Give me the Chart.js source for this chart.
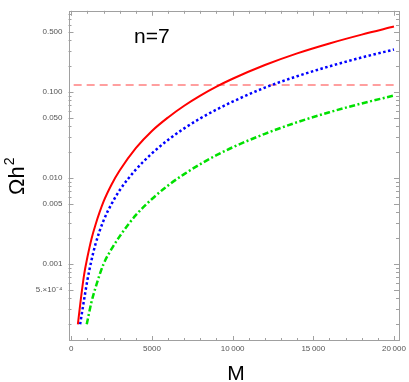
<!DOCTYPE html>
<html>
<head>
<meta charset="utf-8">
<script src="https://cdn.jsdelivr.net/npm/chart.js@4.4.1/dist/chart.umd.min.js"></script>
<style>
  html, body { margin: 0; padding: 0; background: #fff; }
  canvas { display: block; }
</style>
</head>
<body>
<canvas id="relicChart" width="409" height="382"></canvas>
<script>
// values (M, Omega h^2)
const massRed   = [410, 600, 800, 1000, 1250, 1500, 2000, 2500, 3000, 4000, 5000, 6000, 7000, 8000, 9000, 10000, 12000, 14000, 16000, 18000, 20000];
const omegaRed  = [2.0e-4, 4.0e-4, 7.6e-4, 1.2e-3, 1.95e-3, 2.85e-3, 5.3e-3, 8.4e-3, 0.0122, 0.0222, 0.0352, 0.0505, 0.0690, 0.0905, 0.115, 0.142, 0.205, 0.280, 0.365, 0.462, 0.573];

const massBlue  = [550, 800, 1000, 1250, 1500, 2000, 2500, 3000, 4000, 5000, 6000, 7000, 8000, 9000, 10000, 12000, 14000, 16000, 18000, 20000];
const omegaBlue = [2.0e-4, 3.9e-4, 6.5e-4, 1.1e-3, 1.7e-3, 3.2e-3, 5.0e-3, 7.2e-3, 0.0125, 0.0193, 0.0277, 0.0377, 0.0493, 0.0623, 0.0770, 0.112, 0.152, 0.198, 0.251, 0.310];

const massGreen  = [960, 1250, 1500, 2000, 2500, 3000, 4000, 5000, 6000, 7000, 8000, 9000, 10000, 12000, 14000, 16000, 18000, 20000];
const omegaGreen = [2.0e-4, 3.6e-4, 5.3e-4, 1.0e-3, 1.5e-3, 2.1e-3, 3.7e-3, 5.7e-3, 8.2e-3, 0.0111, 0.0145, 0.0184, 0.0227, 0.0326, 0.0444, 0.0580, 0.0734, 0.0906];

const relicMass  = [150, 20000];
const relicOmega = [0.12, 0.12];

const xTickValues = [0, 5000, 10000, 15000, 20000];
const xTickLabels = ['0', '5000', '10\u2009000', '15\u2009000', '20\u2009000'];
const yTickValues = [5e-4, 0.001, 0.005, 0.01, 0.05, 0.1, 0.5];
const yTickLabels = ['5.\u00d710\u207b\u2074', '0.001', '0.005', '0.010', '0.050', '0.100', '0.500'];

const xRange = [-170, 20310];
const yRange = [1.28e-4, 0.874];

const FONT = "'Liberation Sans', Arial, sans-serif";

function toPoints(xs, ys) {
    return xs.map((x, i) => ({ x, y: ys[i] }));
}

// minor tick positions (every 1000 on x, 1..9 per decade on y)
const xMinor = [];
for (let v = 0; v <= 20000; v += 1000) xMinor.push(v);
const yMinor = [];
[1e-4, 1e-3, 1e-2, 1e-1].forEach(d => {
    for (let k = 1; k <= 9; k++) {
        const v = k * d;
        if (v >= yRange[0] && v <= yRange[1]) yMinor.push(v);
    }
});

// Mathematica style frame with inward ticks, plus the text labels
const frameTicks = {
    id: 'frameTicks',
    beforeDatasetsDraw(chart) {
        const { ctx, chartArea: a, scales: { x, y } } = chart;
        ctx.save();
        ctx.strokeStyle = '#a0a0a0';
        ctx.lineWidth = 1;
        ctx.strokeRect(Math.round(a.left) + 0.5, Math.round(a.top) + 0.5,
                       Math.round(a.right - a.left), Math.round(a.bottom - a.top) - 1);

        const seg = (x1, y1, x2, y2) => {
            ctx.beginPath(); ctx.moveTo(x1, y1); ctx.lineTo(x2, y2); ctx.stroke();
        };
        xMinor.forEach(v => {
            const px = Math.round(x.getPixelForValue(v)) + 0.5;
            const len = xTickValues.includes(v) ? 5 : 3;
            seg(px, a.bottom, px, a.bottom - len);
            seg(px, a.top, px, a.top + len);
        });
        yMinor.forEach(v => {
            const py = Math.round(y.getPixelForValue(v)) + 0.5;
            const len = yTickValues.some(t => Math.abs(t - v) < v * 1e-6) ? 5 : 3;
            seg(a.left, py, a.left + len, py);
            seg(a.right, py, a.right - len, py);
        });
        ctx.restore();
    },
    afterDraw(chart) {
        const { ctx } = chart;
        ctx.save();
        ctx.fillStyle = '#000';
        ctx.textBaseline = 'alphabetic';

        ctx.font = '21px ' + FONT;
        ctx.fillText('n=7', 134, 43);

        ctx.textAlign = 'center';
        ctx.fillText('M', 236, 380);

        // rotated y title: Omega h^2
        ctx.translate(24, 195);
        ctx.rotate(-Math.PI / 2);
        ctx.textAlign = 'left';
        ctx.font = '22px ' + FONT;
        ctx.fillText('\u03a9h', 0, 0);
        const w = ctx.measureText('\u03a9h').width;
        ctx.font = '14px ' + FONT;
        ctx.fillText('2', w + 1, -10);
        ctx.restore();
    }
};

new Chart(document.getElementById('relicChart'), {
    type: 'line',
    data: {
        datasets: [
            {
                data: toPoints(massRed, omegaRed),
                borderColor: '#ff0000',
                borderWidth: 2,
                cubicInterpolationMode: 'monotone'
            },
            {
                data: toPoints(massBlue, omegaBlue),
                borderColor: '#0000ff',
                borderWidth: 2.5,
                borderDash: [2.5, 2.5],
                cubicInterpolationMode: 'monotone'
            },
            {
                data: toPoints(massGreen, omegaGreen),
                borderColor: '#00e000',
                borderWidth: 2.5,
                borderDash: [6, 2.5, 2, 2.5],
                cubicInterpolationMode: 'monotone'
            },
            {
                data: toPoints(relicMass, relicOmega),
                borderColor: '#ff8080',
                borderWidth: 1.5,
                borderDash: [8, 5]
            }
        ]
    },
    options: {
        responsive: false,
        animation: false,
        devicePixelRatio: 1,
        elements: { point: { radius: 0 } },
        layout: { padding: { left: 0, right: 6, top: 1, bottom: 0 } },
        plugins: { legend: { display: false }, tooltip: { enabled: false } },
        scales: {
            x: {
                type: 'linear',
                min: xRange[0],
                max: xRange[1],
                grid: { display: false, drawTicks: false },
                border: { display: false },
                afterBuildTicks: s => { s.ticks = xTickValues.map(v => ({ value: v })); },
                afterFit: s => { s.height = 41; },
                ticks: {
                    padding: 3,
                    maxRotation: 0,
                    color: '#555',
                    font: { family: FONT, size: 8 },
                    callback: (v, i) => xTickLabels[i]
                }
            },
            y: {
                type: 'logarithmic',
                min: yRange[0],
                max: yRange[1],
                grid: { display: false, drawTicks: false },
                border: { display: false },
                afterBuildTicks: s => { s.ticks = yTickValues.map(v => ({ value: v })); },
                afterFit: s => { s.width = 68.5; },
                ticks: {
                    padding: 6,
                    color: '#555',
                    font: { family: FONT, size: 8 },
                    callback: (v, i) => yTickLabels[i]
                }
            }
        }
    },
    plugins: [frameTicks]
});
</script>
</body>
</html>
